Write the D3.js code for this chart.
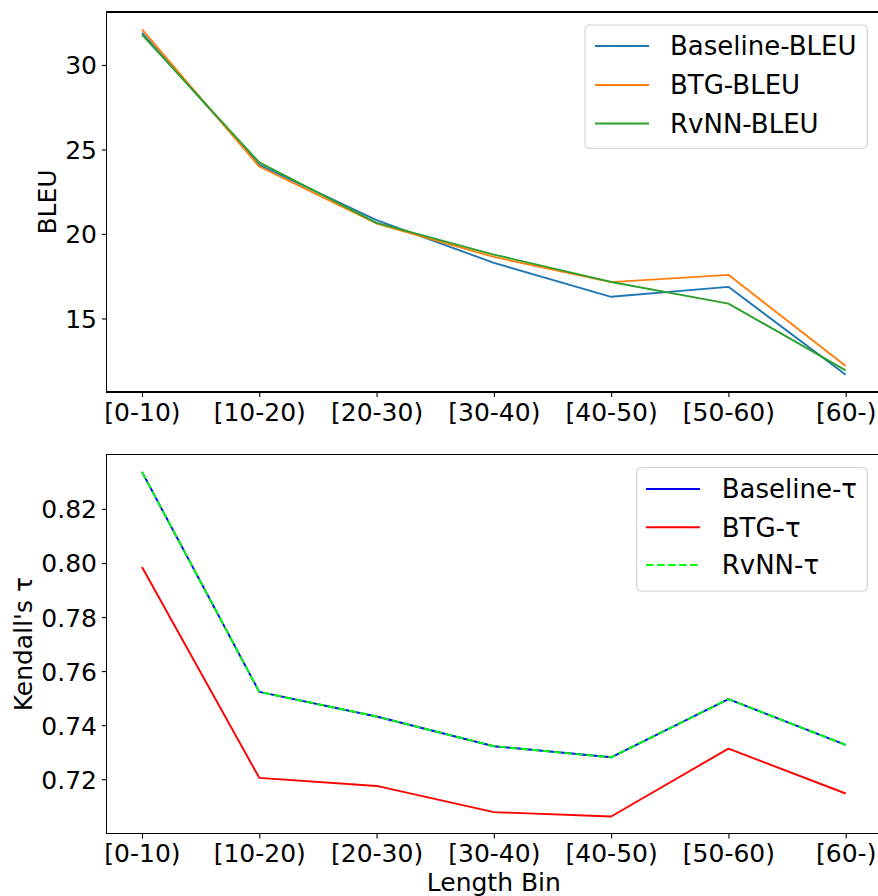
<!DOCTYPE html>
<html>
<head>
<meta charset="utf-8">
<script src="https://cdn.jsdelivr.net/npm/d3@7"></script>
<style>
  html, body { margin: 0; padding: 0; background: #fff; }
  svg { display: block; font-family: "DejaVu Sans", sans-serif; }
</style>
</head>
<body>
<svg id="chart" width="878" height="896"></svg>
<script>
// ---- data ----
const categories = ["[0-10)", "[10-20)", "[20-30)", "[30-40)", "[40-50)", "[50-60)", "[60-)"];

const baselineBLEU = [31.90, 24.09, 20.82, 18.29, 16.28, 16.87, 11.67];
const btgBLEU      = [32.11, 23.99, 20.62, 18.64, 17.15, 17.58, 12.18];
const rvnnBLEU     = [31.79, 24.23, 20.65, 18.78, 17.16, 15.88, 11.93];

const baselineTau  = [0.8337, 0.7523, 0.7432, 0.7322, 0.7281, 0.7496, 0.7327];
const btgTau       = [0.7985, 0.7205, 0.7175, 0.7078, 0.7062, 0.7313, 0.7147];
const rvnnTau      = [0.8337, 0.7523, 0.7432, 0.7322, 0.7281, 0.7496, 0.7327];

const bleuTicks = [15, 20, 25, 30];
const tauTicks  = [0.72, 0.74, 0.76, 0.78, 0.80, 0.82];

const bleuSeries = [
  { name: "Baseline-BLEU", values: baselineBLEU, color: "#1f77b4", dash: null },
  { name: "BTG-BLEU",      values: btgBLEU,      color: "#ff7f0e", dash: null },
  { name: "RvNN-BLEU",     values: rvnnBLEU,     color: "#2ca02c", dash: null }
];
const tauSeries = [
  { name: "Baseline-\u03c4", values: baselineTau, color: "#0000ff", dash: null },
  { name: "BTG-\u03c4",      values: btgTau,      color: "#ff0000", dash: null },
  { name: "RvNN-\u03c4",     values: rvnnTau,     color: "#00ff00", dash: "7.7,3.3" }
];

// ---- layout ----
const svg = d3.select("#chart");
const FS = 25;
const LFS = 26;
const axLeft = 106.8, axRight = 880.9;

function panel(cfg) {
  const { top, bottom, series, ticks, fmt, ylabel, ylabelX, legend, xlabel } = cfg;
  const x = d3.scalePoint().domain(categories).range([axLeft, axRight]).padding(0.3);
  const all = series.flatMap(s => s.values);
  const [mn, mx] = d3.extent(all);
  const pad = (mx - mn) * 0.05;
  const y = d3.scaleLinear().domain([mn - pad, mx + pad]).range([bottom, top]);

  const g = svg.append("g");

  // lines
  const line = d3.line().x((d, i) => x(categories[i])).y(d => y(d));
  series.forEach(s => {
    g.append("path")
      .datum(s.values)
      .attr("d", line)
      .attr("fill", "none")
      .attr("stroke", s.color)
      .attr("stroke-width", 1.9)
      .attr("stroke-linejoin", "round")
      .attr("stroke-dasharray", s.dash);
  });

  // axes
  const xAxis = d3.axisBottom(x).tickSizeInner(4.9).tickSizeOuter(0).tickPadding(4.9);
  const gx = g.append("g").attr("transform", `translate(0,${bottom})`).call(xAxis);
  const yAxis = d3.axisLeft(y).tickValues(ticks).tickFormat(fmt).tickSizeInner(4.9).tickSizeOuter(0).tickPadding(4.9);
  const gy = g.append("g").attr("transform", `translate(${axLeft},0)`).call(yAxis);
  [gx, gy].forEach(a => {
    a.select(".domain").remove();
    a.selectAll(".tick line").attr("stroke", "#000").attr("stroke-width", 1.1);
    a.selectAll(".tick text").attr("fill", "#000").style("font-size", FS + "px")
      .style("font-family", "'DejaVu Sans', sans-serif");
  });
  gx.selectAll(".tick text").attr("dy", "0.76em");
  gy.selectAll(".tick text").attr("dy", "0.36em");

  // frame
  g.append("rect")
    .attr("x", axLeft).attr("y", top)
    .attr("width", axRight - axLeft).attr("height", bottom - top)
    .attr("fill", "none").attr("stroke", "#000").attr("stroke-width", 1.1)
    .attr("shape-rendering", "crispEdges");

  // y label
  g.append("text")
    .attr("transform", `translate(${ylabelX},${(top + bottom) / 2}) rotate(-90)`)
    .attr("text-anchor", "middle")
    .style("font-size", FS + "px")
    .text(ylabel);

  if (xlabel) {
    g.append("text")
      .attr("x", (axLeft + axRight) / 2).attr("y", 890.5)
      .attr("text-anchor", "middle")
      .style("font-size", FS + "px")
      .text(xlabel);
  }

  // legend
  const lg = g.append("g");
  lg.append("rect")
    .attr("x", legend.x0).attr("y", legend.y0)
    .attr("width", legend.x1 - legend.x0).attr("height", legend.y1 - legend.y0)
    .attr("rx", 4).attr("ry", 4)
    .attr("fill", "#fff").attr("fill-opacity", 0.8)
    .attr("stroke", "#cccccc").attr("stroke-width", 1);
  series.forEach((s, i) => {
    const cy = legend.rowY[i];
    lg.append("line")
      .attr("x1", legend.lx0).attr("x2", legend.lx1)
      .attr("y1", cy).attr("y2", cy)
      .attr("stroke", s.color).attr("stroke-width", 1.9)
      .attr("stroke-dasharray", s.dash);
    lg.append("text")
      .attr("x", legend.tx).attr("y", cy)
      .attr("dy", "0.36em")
      .style("font-size", LFS + "px")
      .text(s.name);
  });
}

panel({
  top: 12, bottom: 392, series: bleuSeries, ticks: bleuTicks, fmt: d3.format("d"),
  ylabel: "BLEU", ylabelX: 56,
  legend: { x0: 585, y0: 25, x1: 867.3, y1: 148.3, lx0: 595, lx1: 649, tx: 670, rowY: [46, 85, 123.5] }
});

panel({
  top: 454.7, bottom: 833.7, series: tauSeries, ticks: tauTicks, fmt: d3.format(".2f"),
  ylabel: "Kendall's \u03c4", ylabelX: 32, xlabel: "Length Bin",
  legend: { x0: 636.7, y0: 467.7, x1: 867.3, y1: 591, lx0: 646, lx1: 700, tx: 721.7, rowY: [489, 527.3, 565] }
});
</script>
</body>
</html>
